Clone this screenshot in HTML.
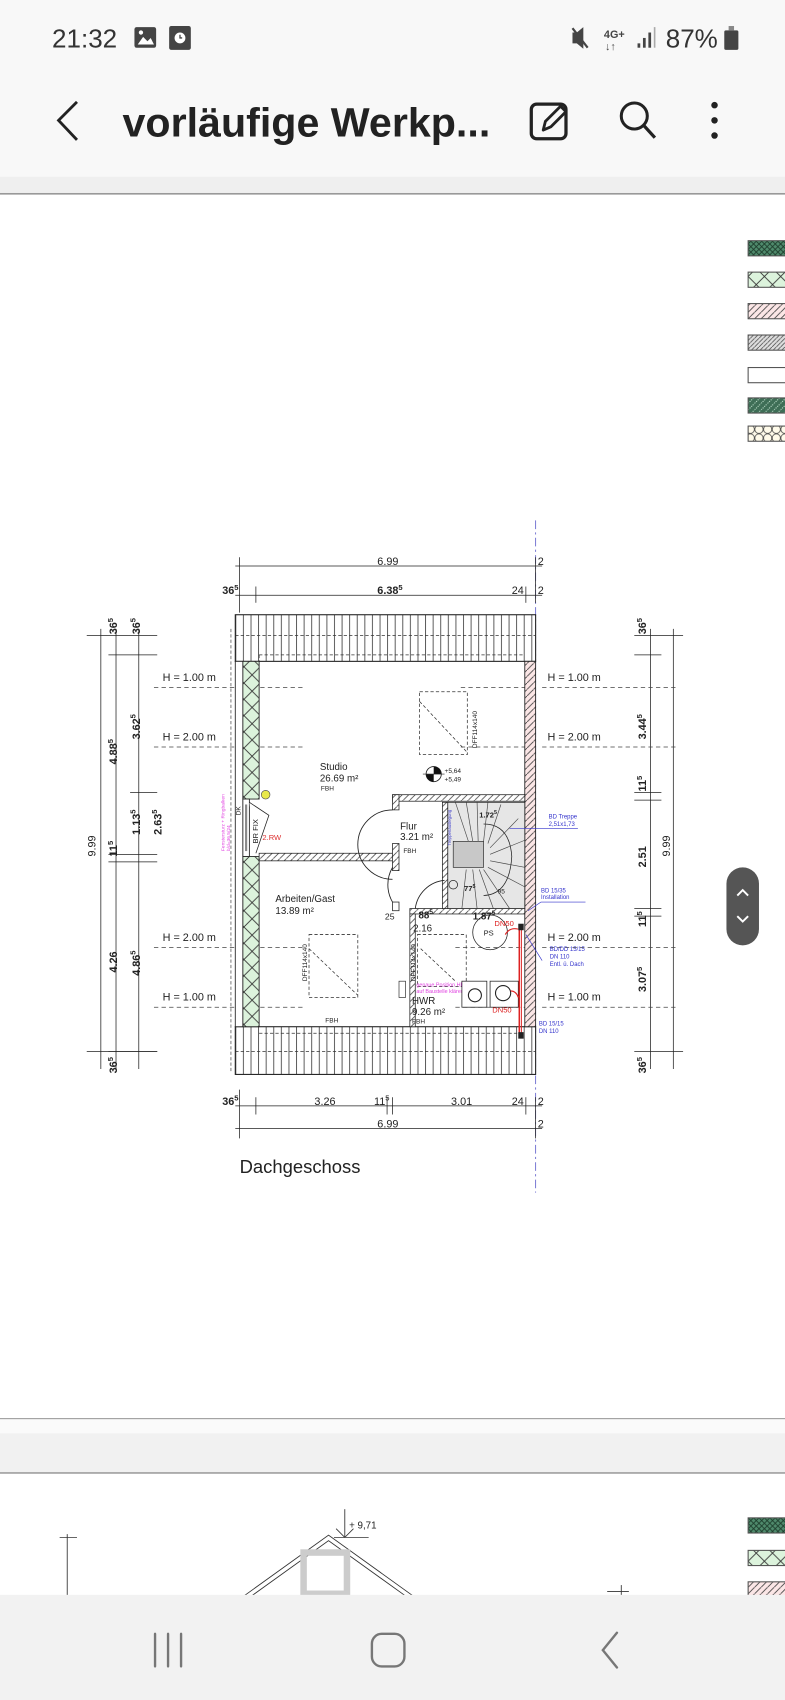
<!DOCTYPE html>
<html><head><meta charset="utf-8"><style>
html,body{margin:0;padding:0;background:#fff;width:785px;height:1700px;overflow:hidden}
svg{display:block}
text{font-family:"Liberation Sans",sans-serif}
</style></head><body>
<svg width="785" height="1700" viewBox="0 0 724 1568" preserveAspectRatio="none" xmlns="http://www.w3.org/2000/svg">
<defs>
<pattern id="vl" width="7" height="10" patternUnits="userSpaceOnUse"><rect width="7" height="10" fill="#fff"/><line x1="0.5" y1="0" x2="0.5" y2="10" stroke="#444" stroke-width="0.8"/></pattern>
<pattern id="gx" width="15" height="15" patternUnits="userSpaceOnUse"><rect width="15" height="15" fill="#dcf3dc"/><path d="M0 0L15 15M15 0L0 15" stroke="#333" stroke-width="0.8"/></pattern>
<pattern id="dg" width="5" height="5" patternUnits="userSpaceOnUse"><rect width="5" height="5" fill="#4f8a6c"/><path d="M0 0L5 5M5 0L0 5" stroke="#1d3d2c" stroke-width="0.8"/></pattern>
<pattern id="pk" width="6" height="6" patternUnits="userSpaceOnUse"><rect width="6" height="6" fill="#fbe6e6"/><path d="M0 6L6 0" stroke="#444" stroke-width="0.8"/></pattern>
<pattern id="gy" width="4" height="4" patternUnits="userSpaceOnUse"><rect width="4" height="4" fill="#ddd"/><path d="M0 4L4 0" stroke="#444" stroke-width="0.7"/></pattern>
<pattern id="wh" width="6" height="6" patternUnits="userSpaceOnUse"><rect width="6" height="6" fill="#fff"/><path d="M0 6L6 0" stroke="#444" stroke-width="0.7"/></pattern>
<pattern id="ci" width="8" height="8" patternUnits="userSpaceOnUse"><rect width="8" height="8" fill="#fffbea"/><circle cx="4" cy="4" r="3.8" fill="none" stroke="#444" stroke-width="0.7"/></pattern>
<pattern id="dk" width="6" height="6" patternUnits="userSpaceOnUse"><rect width="6" height="6" fill="#3e6e56"/><path d="M0 6L6 0" stroke="#bfe0cc" stroke-width="1" stroke-dasharray="1 1"/></pattern>
</defs>

<!-- header -->
<rect x="0" y="0" width="724" height="163" fill="#f8f8f8"/>
<rect x="0" y="163" width="724" height="15" fill="#efefef"/>
<rect x="0" y="178" width="724" height="1.5" fill="#999"/>
<text x="48" y="44" font-size="24" fill="#333">21:32</text>
<rect x="124" y="25" width="20" height="19" rx="2" fill="#444"/><path d="M127 41l5-7 4 4 3-3 3 6z" fill="#fff"/><circle cx="130" cy="30" r="2" fill="#fff"/>
<rect x="156" y="24" width="20" height="22" rx="2" fill="#444"/><circle cx="166" cy="35" r="5" fill="#fff"/><path d="M166 32v3h2" stroke="#444" stroke-width="1.2" fill="none"/>
<path d="M528 30h4l6-5v20l-6-5h-4z" fill="#444"/><path d="M528 26l14 18" stroke="#444" stroke-width="2"/>
<text x="557" y="35" font-size="10" font-weight="bold" fill="#444">4G+</text>
<text x="558" y="46" font-size="10" fill="#444">↓↑</text>
<rect x="588" y="40" width="2.5" height="4" fill="#444"/><rect x="593" y="35" width="2.5" height="9" fill="#444"/><rect x="598" y="30" width="2.5" height="14" fill="#444"/><rect x="603" y="25" width="1.5" height="19" fill="#aaa"/>
<text x="614" y="44" font-size="24" fill="#333">87%</text>
<rect x="668" y="28" width="13" height="18" rx="1.5" fill="#444"/><rect x="672" y="24" width="5" height="4" fill="#888"/>
<path d="M71 94L54 111L71 129" stroke="#222" stroke-width="2.6" fill="none"/>
<text x="113" y="126" font-size="38" font-weight="bold" fill="#222">vorläufige Werkp...</text>
<rect x="490" y="96" width="32" height="32" rx="5" fill="none" stroke="#222" stroke-width="3"/>
<path d="M501 120l2-8 14-14 5 5-14 14z" fill="#f8f8f8" stroke="#222" stroke-width="2.6" stroke-linejoin="round"/>
<circle cx="585" cy="107" r="12" fill="none" stroke="#222" stroke-width="2.8"/><path d="M594 116l10 11" stroke="#222" stroke-width="3"/>
<circle cx="659" cy="97" r="3" fill="#222"/><circle cx="659" cy="111" r="3" fill="#222"/><circle cx="659" cy="125" r="3" fill="#222"/>

<!-- legend -->
<rect x="690" y="222" width="40" height="14" fill="url(#dg)" stroke="#555"/>
<rect x="690" y="251" width="40" height="14" fill="url(#gx)" stroke="#555"/>
<rect x="690" y="280" width="40" height="14" fill="url(#pk)" stroke="#555"/>
<rect x="690" y="309" width="40" height="14" fill="url(#gy)" stroke="#555"/>
<rect x="690" y="339" width="40" height="14" fill="#fff" stroke="#555"/>
<rect x="690" y="367" width="40" height="14" fill="url(#dk)" stroke="#555"/>
<rect x="690" y="393" width="40" height="14" fill="url(#ci)" stroke="#555"/>

<!-- axis -->
<line x1="494" y1="480" x2="494" y2="1100" stroke="#6666cc" stroke-width="0.8" stroke-dasharray="8 3 2 3"/>

<!-- dimension lines top -->
<g stroke="#222" stroke-width="0.7" fill="none">
<line x1="217" y1="522" x2="500" y2="522"/><line x1="217" y1="549" x2="500" y2="549"/>
<line x1="221" y1="514" x2="221" y2="565"/><line x1="236" y1="541" x2="236" y2="556"/><line x1="485" y1="541" x2="485" y2="556"/><line x1="494" y1="514" x2="494" y2="556"/>
<line x1="217" y1="1020" x2="500" y2="1020"/><line x1="217" y1="1041" x2="500" y2="1041"/>
<line x1="221" y1="1005" x2="221" y2="1050"/><line x1="236" y1="1012" x2="236" y2="1028"/><line x1="357" y1="1012" x2="357" y2="1028"/><line x1="362" y1="1012" x2="362" y2="1028"/><line x1="485" y1="1012" x2="485" y2="1028"/><line x1="494" y1="1012" x2="494" y2="1050"/>
<!-- left verticals -->
<line x1="93" y1="580" x2="93" y2="986"/><line x1="107" y1="580" x2="107" y2="986"/><line x1="128" y1="580" x2="128" y2="986"/>
<line x1="80" y1="586" x2="145" y2="586"/><line x1="100" y1="604" x2="145" y2="604"/><line x1="120" y1="731" x2="145" y2="731"/>
<line x1="100" y1="788" x2="145" y2="788"/><line x1="100" y1="795" x2="145" y2="795"/><line x1="100" y1="970" x2="145" y2="970"/><line x1="80" y1="970" x2="145" y2="970"/>
<!-- right verticals -->
<line x1="600" y1="580" x2="600" y2="986"/><line x1="621" y1="580" x2="621" y2="986"/>
<line x1="585" y1="586" x2="630" y2="586"/><line x1="585" y1="604" x2="610" y2="604"/><line x1="585" y1="731" x2="610" y2="731"/><line x1="585" y1="738" x2="610" y2="738"/>
<line x1="585" y1="838" x2="610" y2="838"/><line x1="585" y1="845" x2="610" y2="845"/><line x1="585" y1="970" x2="630" y2="970"/>
</g>
<g font-size="10" fill="#222">
<text x="348" y="521">6.99</text><text x="205" y="548" font-weight="bold">36<tspan font-size="7" dy="-4">5</tspan></text>
<text x="348" y="548" font-weight="bold">6.38<tspan font-size="7" dy="-4">5</tspan></text><text x="472" y="548">24</text><text x="496" y="521">2</text><text x="496" y="548">2</text>
<text x="205" y="1019" font-weight="bold">36<tspan font-size="7" dy="-4">5</tspan></text><text x="290" y="1019">3.26</text><text x="345" y="1019">11<tspan font-size="7" dy="-4">5</tspan></text><text x="416" y="1019">3.01</text><text x="472" y="1019">24</text><text x="496" y="1019">2</text>
<text x="348" y="1040">6.99</text><text x="496" y="1040">2</text>
<g font-weight="bold">
<text transform="translate(108,585) rotate(-90)">36<tspan font-size="7" dy="-4">5</tspan></text>
<text transform="translate(129,585) rotate(-90)">36<tspan font-size="7" dy="-4">5</tspan></text>
<text transform="translate(108,705) rotate(-90)">4.88<tspan font-size="7" dy="-4">5</tspan></text>
<text transform="translate(129,682) rotate(-90)">3.62<tspan font-size="7" dy="-4">5</tspan></text>
<text transform="translate(129,770) rotate(-90)">1.13<tspan font-size="7" dy="-4">5</tspan></text>
<text transform="translate(149,770) rotate(-90)">2.63<tspan font-size="7" dy="-4">5</tspan></text>
<text transform="translate(108,790) rotate(-90)">11<tspan font-size="7" dy="-4">5</tspan></text>
<text transform="translate(108,897) rotate(-90)">4.26</text>
<text transform="translate(129,900) rotate(-90)">4.86<tspan font-size="7" dy="-4">5</tspan></text>
<text transform="translate(108,990) rotate(-90)">36<tspan font-size="7" dy="-4">5</tspan></text>
<text transform="translate(596,585) rotate(-90)">36<tspan font-size="7" dy="-4">5</tspan></text>
<text transform="translate(596,682) rotate(-90)">3.44<tspan font-size="7" dy="-4">5</tspan></text>
<text transform="translate(596,730) rotate(-90)">11<tspan font-size="7" dy="-4">5</tspan></text>
<text transform="translate(596,800) rotate(-90)">2.51</text>
<text transform="translate(596,855) rotate(-90)">11<tspan font-size="7" dy="-4">5</tspan></text>
<text transform="translate(596,915) rotate(-90)">3.07<tspan font-size="7" dy="-4">5</tspan></text>
<text transform="translate(596,990) rotate(-90)">36<tspan font-size="7" dy="-4">5</tspan></text>
</g>
<text transform="translate(88,790) rotate(-90)">9.99</text>
<text transform="translate(618,790) rotate(-90)">9.99</text>
</g>

<!-- H lines -->
<g stroke="#444" stroke-width="0.7" stroke-dasharray="4 3">
<line x1="142" y1="634" x2="280" y2="634"/><line x1="142" y1="689" x2="280" y2="689"/><line x1="142" y1="874" x2="280" y2="874"/><line x1="142" y1="929" x2="280" y2="929"/>
<line x1="500" y1="634" x2="626" y2="634"/><line x1="500" y1="689" x2="626" y2="689"/><line x1="500" y1="874" x2="626" y2="874"/><line x1="500" y1="929" x2="626" y2="929"/>
<line x1="425" y1="634" x2="484" y2="634"/><line x1="425" y1="689" x2="484" y2="689"/><line x1="420" y1="874" x2="484" y2="874"/><line x1="420" y1="929" x2="484" y2="929"/>
</g>
<g font-size="10" fill="#222">
<text x="150" y="628">H = 1.00 m</text><text x="150" y="683">H = 2.00 m</text><text x="150" y="868">H = 2.00 m</text><text x="150" y="923">H = 1.00 m</text>
<text x="505" y="628">H = 1.00 m</text><text x="505" y="683">H = 2.00 m</text><text x="505" y="868">H = 2.00 m</text><text x="505" y="923">H = 1.00 m</text>
</g>

<!-- building -->
<rect x="217" y="567" width="277" height="43" fill="url(#vl)" stroke="#222" stroke-width="1"/>
<rect x="217" y="947" width="277" height="44" fill="url(#vl)" stroke="#222" stroke-width="1"/>
<g stroke="#333" stroke-width="0.7" stroke-dasharray="3 2" fill="none">
<line x1="217" y1="586" x2="494" y2="586"/><line x1="239" y1="604" x2="484" y2="604"/>
<line x1="239" y1="953" x2="484" y2="953"/><line x1="217" y1="970" x2="494" y2="970"/>
<line x1="239" y1="604" x2="239" y2="610"/>
</g>
<rect x="217" y="610" width="7" height="337" fill="#fff" stroke="#222" stroke-width="0.8"/>
<rect x="224" y="610" width="15" height="127" fill="url(#gx)" stroke="#222" stroke-width="0.8"/>
<rect x="224" y="790" width="15" height="157" fill="url(#gx)" stroke="#222" stroke-width="0.8"/>
<rect x="224" y="737" width="6" height="53" fill="#fff" stroke="#222" stroke-width="0.8"/><rect x="226" y="742" width="2" height="43" fill="#888"/>
<path d="M230 740 L248 752 L236 787" fill="#fff" stroke="#222" stroke-width="0.7"/>
<text transform="translate(238,778) rotate(-90)" font-size="7" fill="#222">BR FIX</text>
<text x="242" y="775" font-size="7" fill="#d33">2.RW</text>
<circle cx="245" cy="733" r="4" fill="#e8e84a" stroke="#555" stroke-width="0.6"/>
<text transform="translate(207,785) rotate(-90)" font-size="4.5" fill="#e040e0">Fenstersturz + Ringbalken</text>
<text transform="translate(212,785) rotate(-90)" font-size="4.5" fill="#e040e0">b/d=36.5/24</text>
<text transform="translate(222,752) rotate(-90)" font-size="6" fill="#222">DK</text>
<line x1="213" y1="580" x2="213" y2="990" stroke="#333" stroke-width="0.6" stroke-dasharray="3 2"/>
<rect x="484" y="610" width="10" height="337" fill="url(#pk)" stroke="#222" stroke-width="0.8"/>
<!-- interior walls -->
<rect x="239" y="787" width="124" height="7" fill="url(#wh)" stroke="#222" stroke-width="0.7"/>
<rect x="362" y="733" width="122" height="6" fill="url(#wh)" stroke="#222" stroke-width="0.7"/>
<rect x="362" y="733" width="6" height="14" fill="url(#wh)" stroke="#222" stroke-width="0.7"/>
<rect x="362" y="778" width="6" height="25" fill="url(#wh)" stroke="#222" stroke-width="0.7"/>
<rect x="362" y="832" width="6" height="8" fill="#fff" stroke="#222" stroke-width="0.7"/>
<rect x="378" y="838" width="106" height="5" fill="url(#wh)" stroke="#222" stroke-width="0.7"/>
<rect x="378" y="843" width="5" height="104" fill="url(#wh)" stroke="#222" stroke-width="0.7"/>
<rect x="408" y="740" width="5" height="98" fill="url(#wh)" stroke="#222" stroke-width="0.7"/>
<!-- doors -->
<path d="M362 747 A32 32 0 0 0 362 811" fill="none" stroke="#222" stroke-width="0.8"/>
<path d="M362 800 A32 32 0 0 0 362 832" fill="none" stroke="#222" stroke-width="0.8"/>
<path d="M383 838 A30 30 0 0 1 410 812" fill="none" stroke="#222" stroke-width="0.8"/>
<!-- stair -->
<rect x="413" y="740" width="71" height="98" fill="#e6e6e6" stroke="#222" stroke-width="0.7"/>
<rect x="418" y="776" width="28" height="24" fill="#c8c8c8" stroke="#222" stroke-width="0.6"/>
<path d="M446 760 Q470 760 472 790 Q470 825 446 826" fill="none" stroke="#222" stroke-width="0.7"/>
<g stroke="#444" stroke-width="0.6">
<line x1="420" y1="740" x2="432" y2="776"/><line x1="430" y1="740" x2="436" y2="776"/><line x1="440" y1="740" x2="441" y2="776"/><line x1="450" y1="740" x2="446" y2="776"/><line x1="462" y1="742" x2="450" y2="778"/><line x1="478" y1="755" x2="452" y2="782"/><line x1="484" y1="775" x2="452" y2="788"/><line x1="484" y1="800" x2="452" y2="794"/><line x1="484" y1="818" x2="450" y2="800"/><line x1="470" y1="838" x2="446" y2="802"/><line x1="455" y1="838" x2="442" y2="802"/><line x1="440" y1="838" x2="436" y2="802"/><line x1="426" y1="838" x2="430" y2="802"/>
</g>
<text x="442" y="754" font-size="7" fill="#222" font-weight="bold">1.72<tspan font-size="5" dy="-3">5</tspan></text>
<text x="428" y="822" font-size="7" fill="#222" font-weight="bold">77<tspan font-size="5" dy="-3">5</tspan></text>
<text x="459" y="824" font-size="6" fill="#222">95</text>
<text transform="translate(416,780) rotate(-90)" font-size="4" fill="#44c">Treppenauslegung</text>
<circle cx="418" cy="816" r="4" fill="none" stroke="#222" stroke-width="0.7"/>
<!-- skylights -->
<g stroke="#333" stroke-width="0.7" stroke-dasharray="3 2" fill="none">
<rect x="387" y="638" width="44" height="58"/><line x1="387" y1="647" x2="431" y2="694"/>
<rect x="285" y="862" width="45" height="58"/><line x1="285" y1="875" x2="330" y2="918"/>
<rect x="385" y="862" width="45" height="48"/><line x1="388" y1="875" x2="420" y2="905"/>
</g>
<g font-size="6" fill="#222">
<text transform="translate(440,690) rotate(-90)">DFF114x140</text>
<text transform="translate(283,905) rotate(-90)">DFF114x140</text>
<text transform="translate(383,905) rotate(-90)">DFF114x140</text>
</g>
<!-- level symbol -->
<circle cx="400" cy="714" r="7" fill="#fff" stroke="#222" stroke-width="0.8"/>
<path d="M400 707A7 7 0 0 1 407 714H400zM400 721A7 7 0 0 1 393 714H400z" fill="#111"/>
<line x1="390" y1="714" x2="410" y2="714" stroke="#222" stroke-width="0.6"/>
<text x="410" y="713" font-size="6" fill="#222">+5,64</text><text x="410" y="721" font-size="6" fill="#222">+5,49</text>
<!-- room labels -->
<g fill="#222">
<text x="295" y="710" font-size="9">Studio</text><text x="295" y="721" font-size="9">26.69 m²</text><text x="296" y="729" font-size="6">FBH</text>
<text x="369" y="765" font-size="9">Flur</text><text x="369" y="775" font-size="9">3.21 m²</text><text x="372" y="787" font-size="6">FBH</text>
<text x="254" y="832" font-size="9">Arbeiten/Gast</text><text x="254" y="843" font-size="9">13.89 m²</text>
<text x="380" y="926" font-size="9">HWR</text><text x="380" y="936" font-size="9">9.26 m²</text><text x="380" y="944" font-size="6">FBH</text>
<text x="300" y="943" font-size="6">FBH</text>
<text x="355" y="848" font-size="8">25</text><text x="386" y="847" font-size="9" font-weight="bold">88<tspan font-size="6" dy="-4">5</tspan></text>
<text x="381" y="859" font-size="9">2.16</text>
<text x="436" y="848" font-size="9" font-weight="bold">1.87<tspan font-size="6" dy="-4">5</tspan></text>
<text x="446" y="863" font-size="7">PS</text>
</g>
<circle cx="452" cy="860" r="16" fill="none" stroke="#222" stroke-width="0.7"/>
<rect x="368" y="905" width="6" height="15" fill="#fff" stroke="#222" stroke-width="0.6"/>
<text x="384" y="910" font-size="5" fill="#e040e0">genaue Position HKV</text><text x="384" y="916" font-size="5" fill="#e040e0">auf Baustelle klären</text>
<rect x="426" y="905" width="23" height="24" fill="#fff" stroke="#222" stroke-width="0.7"/><circle cx="438" cy="918" r="6" fill="none" stroke="#222"/>
<rect x="452" y="905" width="26" height="24" fill="#fff" stroke="#222" stroke-width="0.7"/><circle cx="464" cy="916" r="7" fill="none" stroke="#222"/>
<!-- red pipe -->
<line x1="479" y1="855" x2="479" y2="955" stroke="#d22" stroke-width="1.5"/>
<line x1="481" y1="855" x2="481" y2="955" stroke="#d22" stroke-width="0.8"/>
<rect x="478" y="852" width="5" height="6" fill="#222"/><rect x="478" y="952" width="5" height="6" fill="#222"/>
<path d="M478 857 Q470 855 466 862" stroke="#d22" fill="none"/><path d="M478 920 Q476 914 471 914" stroke="#d22" fill="none"/>
<text x="456" y="854" font-size="7" fill="#d22">DN50</text><text x="454" y="934" font-size="7" fill="#d22">DN50</text>
<g font-size="5.5" fill="#33c"><text x="506" y="755">BD Treppe</text><text x="506" y="762">2,51x1,73</text>
<text x="499" y="823">BD 15/35</text><text x="499" y="829">Installation</text>
<text x="507" y="877">BD/DD 15/15</text><text x="507" y="884">DN 110</text><text x="507" y="891">Entl. ü. Dach</text>
<text x="497" y="946">BD 15/15</text><text x="497" y="953">DN 110</text></g>
<g stroke="#33c" stroke-width="0.6"><line x1="470" y1="764" x2="533" y2="764"/><line x1="487" y1="840" x2="499" y2="832"/><line x1="499" y1="832" x2="540" y2="832"/><line x1="485" y1="862" x2="500" y2="886"/></g>
<text x="221" y="1082" font-size="17" fill="#222">Dachgeschoss</text>

<!-- scroll button -->
<rect x="670" y="800" width="30" height="72" rx="15" fill="#555"/>
<path d="M680 826l5-5 5 5M680 845l5 5 5-5" stroke="#fff" stroke-width="1.8" fill="none"/>

<!-- page separators -->
<rect x="0" y="1308" width="724" height="1.2" fill="#999"/>
<rect x="0" y="1309" width="724" height="13" fill="#fafafa"/>
<rect x="0" y="1322" width="724" height="36" fill="#f1f1f1"/>
<rect x="0" y="1358" width="724" height="1.2" fill="#888"/>
<!-- page 2 -->
<g stroke="#333" stroke-width="0.8" fill="none">
<line x1="62" y1="1415" x2="62" y2="1472"/><line x1="55" y1="1418" x2="71" y2="1418"/>
<path d="M225 1472L303 1416L381 1472"/><path d="M232 1472L303 1421L374 1472"/>
<line x1="318" y1="1392" x2="318" y2="1418"/><line x1="308" y1="1418" x2="340" y2="1418"/><path d="M310 1410L318 1418L326 1410"/>
<line x1="573" y1="1462" x2="573" y2="1472"/><line x1="560" y1="1468" x2="580" y2="1468"/>
</g>
<text x="322" y="1410" font-size="9" fill="#222">+ 9,71</text>
<rect x="280" y="1432" width="40" height="38" fill="none" stroke="#ccc" stroke-width="6"/>
<rect x="690" y="1400" width="40" height="14" fill="url(#dg)" stroke="#555"/>
<rect x="690" y="1430" width="40" height="14" fill="url(#gx)" stroke="#555"/>
<rect x="690" y="1459" width="40" height="14" fill="url(#pk)" stroke="#555"/>
<!-- nav -->
<rect x="0" y="1471" width="724" height="97" fill="#f2f2f2"/>
<g stroke="#777" stroke-width="2.2" fill="none" stroke-linecap="round">
<line x1="143" y1="1507" x2="143" y2="1537"/><line x1="155" y1="1507" x2="155" y2="1537"/><line x1="167" y1="1507" x2="167" y2="1537"/>
<rect x="343" y="1507" width="30" height="30" rx="9"/>
<path d="M569 1506L556 1522L569 1538"/>
</g>
</svg>
</body></html>
